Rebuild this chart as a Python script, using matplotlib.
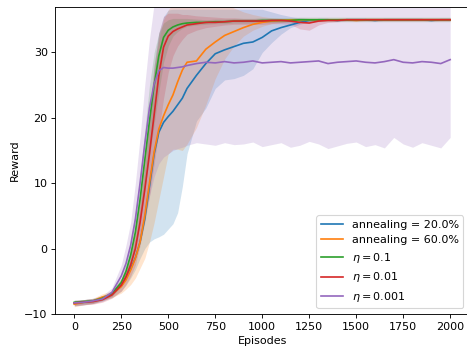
import matplotlib
matplotlib.use("Agg")
import matplotlib.pyplot as plt
import numpy as np

episodes = [0, 50, 100, 150, 200,
            250, 275, 300, 325, 350, 375, 400, 425, 450, 475, 500, 525, 550, 575, 600,
            650, 700, 750, 800, 850, 900, 950, 1000, 1050, 1100, 1150, 1200, 1250, 1300,
            1350, 1400, 1450, 1500, 1550, 1600, 1650, 1700, 1750, 1800, 1850, 1900, 1950, 2000]

labels = ["annealing = 20.0%", "annealing = 60.0%",
          r"$\eta = 0.1$", r"$\eta = 0.01$", r"$\eta = 0.001$"]
colors = ["tab:blue", "tab:orange", "tab:green", "tab:red", "tab:purple"]

# annealing 20%
blue_mean = [-8.4, -8.2, -8.0, -7.6, -7.0,
             -5.7, -4.6, -3.1, -1.4, 1.0, 4.5, 9.5, 14.5, 17.8, 19.3, 20.2, 21.0, 22.0, 23.0, 24.5,
             26.5, 28.3, 29.8, 30.4, 30.9, 31.4, 31.6, 32.3, 33.3, 33.8, 34.2, 34.6, 34.9, 35.0,
             35.0, 34.9, 35.0, 35.0, 35.0, 34.9, 35.0, 35.0, 35.0, 35.0, 35.0, 34.9, 35.0, 35.0]
blue_low = [-8.8, -8.6, -8.4, -8.0, -7.5,
            -6.5, -5.6, -4.5, -3.2, -1.5, 0.0, 1.0, 1.5, 1.8, 2.2, 3.0, 3.8, 5.5, 9.5, 14.5,
            19.5, 21.5, 24.5, 25.8, 26.0, 26.5, 27.5, 30.0, 31.5, 32.8, 33.8, 34.3, 34.7, 34.85,
            34.9, 34.8, 34.9, 34.9, 34.9, 34.8, 34.9, 34.9, 34.9, 34.9, 34.9, 34.8, 34.9, 34.9]
blue_high = [-8.0, -7.8, -7.6, -7.2, -6.5,
             -4.8, -3.5, -1.5, 1.5, 6.0, 12.0, 20.0, 28.0, 33.0, 35.5, 36.5, 36.6, 36.6, 36.6, 36.6,
             36.6, 36.6, 36.6, 36.6, 36.6, 36.6, 36.6, 36.6, 36.2, 35.8, 35.5, 35.3, 35.2, 35.1,
             35.1, 35.0, 35.1, 35.1, 35.1, 35.0, 35.1, 35.1, 35.1, 35.1, 35.1, 35.0, 35.1, 35.1]

# annealing 60%
orange_mean = [-8.5, -8.2, -8.0, -7.4, -7.0,
               -5.8, -4.8, -3.3, -1.5, 1.0, 5.0, 10.0, 14.8, 18.3, 20.3, 22.0, 23.5, 25.5, 27.3, 28.5,
               28.7, 30.5, 31.6, 32.6, 33.2, 33.8, 34.3, 34.6, 34.8, 34.9, 35.0, 35.0, 35.0, 35.0,
               35.0, 35.0, 35.0, 34.9, 35.0, 35.0, 35.0, 35.0, 35.0, 35.0, 35.0, 35.0, 35.0, 35.0]
orange_low = [-8.9, -8.6, -8.4, -7.9, -7.5,
              -6.8, -6.2, -5.5, -4.5, -3.0, -1.5, 1.0, 4.0, 7.5, 11.0, 14.5, 15.2, 15.2, 15.0, 16.0,
              18.5, 22.0, 26.0, 29.0, 31.0, 32.5, 33.4, 34.0, 34.4, 34.6, 34.8, 34.85, 34.85, 34.85,
              34.85, 34.85, 34.85, 34.75, 34.85, 34.85, 34.85, 34.85, 34.85, 34.85, 34.85, 34.85, 34.85, 34.85]
orange_high = [-8.1, -7.8, -7.6, -6.9, -6.5,
               -4.8, -3.5, -1.0, 2.5, 7.0, 13.0, 20.0, 27.0, 32.0, 35.0, 36.5, 37.5, 37.5, 37.5, 37.5,
               37.5, 37.5, 37.5, 37.5, 36.8, 36.2, 35.8, 35.5, 35.3, 35.2, 35.15, 35.15, 35.15, 35.15,
               35.15, 35.15, 35.15, 35.05, 35.15, 35.15, 35.15, 35.15, 35.15, 35.15, 35.15, 35.15, 35.15, 35.15]

# eta = 0.1
green_mean = [-8.2, -8.1, -8.0, -7.6, -6.9,
              -5.2, -3.5, -1.0, 2.5, 7.5, 13.5, 19.5, 25.0, 29.5, 32.3, 33.4, 33.9, 34.2, 34.4, 34.5,
              34.6, 34.6, 34.7, 34.7, 34.8, 34.8, 34.8, 34.9, 34.9, 34.9, 34.9, 35.0, 35.0, 35.0,
              35.0, 35.0, 35.0, 35.0, 35.0, 35.0, 35.0, 35.0, 35.0, 35.0, 35.0, 35.0, 35.0, 35.0]
green_low = [-8.5, -8.4, -8.3, -7.9, -7.3,
             -5.8, -4.5, -2.5, 0.0, 4.0, 9.0, 14.0, 19.0, 24.0, 28.5, 31.0, 32.5, 33.2, 33.7, 34.0,
             34.2, 34.3, 34.4, 34.4, 34.5, 34.5, 34.5, 34.6, 34.6, 34.6, 34.6, 34.7, 34.7, 34.7,
             34.7, 34.7, 34.7, 34.7, 34.7, 34.7, 34.7, 34.7, 34.7, 34.7, 34.7, 34.7, 34.7, 34.7]
green_high = [-7.9, -7.8, -7.7, -7.3, -6.5,
              -4.5, -2.3, 1.0, 5.5, 11.0, 18.0, 25.0, 30.0, 33.0, 34.5, 35.0, 35.2, 35.2, 35.2, 35.2,
              35.1, 35.0, 35.1, 35.1, 35.2, 35.2, 35.2, 35.3, 35.3, 35.3, 35.3, 35.4, 35.4, 35.4,
              35.4, 35.4, 35.4, 35.4, 35.4, 35.4, 35.4, 35.4, 35.4, 35.4, 35.4, 35.4, 35.4, 35.4]

# eta = 0.01
red_mean = [-8.3, -8.2, -8.1, -7.8, -7.1,
            -5.6, -4.3, -2.5, 0.0, 4.0, 9.0, 14.5, 20.5, 26.5, 30.8, 32.5, 33.2, 33.6, 33.9, 34.2,
            34.4, 34.6, 34.6, 34.7, 34.8, 34.8, 34.8, 34.8, 34.9, 34.9, 34.8, 34.6, 34.5, 34.8,
            34.9, 34.9, 35.0, 35.0, 35.0, 35.0, 35.0, 35.0, 35.0, 35.0, 35.0, 35.0, 35.0, 35.0]
red_low = [-8.7, -8.6, -8.5, -8.2, -7.6,
           -6.5, -5.5, -4.2, -2.5, 0.5, 4.0, 8.0, 13.0, 18.0, 23.0, 27.0, 29.5, 31.0, 32.0, 32.8,
           33.4, 33.8, 34.0, 34.2, 34.3, 34.3, 34.3, 34.3, 34.4, 34.4, 34.3, 33.6, 33.4, 34.2,
           34.6, 34.7, 34.8, 34.8, 34.8, 34.8, 34.8, 34.8, 34.8, 34.8, 34.8, 34.8, 34.8, 34.8]
red_high = [-7.9, -7.8, -7.7, -7.4, -6.6,
            -4.6, -3.0, -0.5, 3.0, 8.0, 14.0, 21.0, 28.0, 33.0, 35.5, 36.0, 36.0, 36.0, 35.8, 35.8,
            35.6, 35.5, 35.4, 35.3, 35.3, 35.2, 35.2, 35.2, 35.2, 35.2, 35.2, 35.1, 35.0, 35.2,
            35.2, 35.2, 35.3, 35.3, 35.3, 35.3, 35.3, 35.3, 35.3, 35.3, 35.3, 35.3, 35.3, 35.3]

# eta = 0.001
purple_mean = [-8.3, -8.2, -8.0, -7.7, -6.7,
               -4.2, -2.3, 0.5, 4.5, 10.0, 16.0, 21.5, 25.2, 27.2, 27.7, 27.6, 27.6, 27.7, 27.8, 28.0,
               28.3, 28.5, 28.4, 28.6, 28.4, 28.5, 28.7, 28.4, 28.5, 28.6, 28.4, 28.5, 28.6, 28.7,
               28.3, 28.5, 28.6, 28.7, 28.5, 28.4, 28.6, 28.9, 28.5, 28.4, 28.6, 28.5, 28.3, 28.9]
purple_low = [-8.7, -8.6, -8.4, -8.1, -7.3,
              -5.5, -4.2, -2.5, -0.5, 2.0, 5.0, 8.0, 11.0, 13.0, 14.0, 14.5, 15.0, 15.3, 15.5, 15.8,
              16.2, 16.0, 15.8, 16.2, 15.9, 16.0, 16.3, 15.6, 15.9, 16.2, 15.5, 15.8, 16.4, 16.0,
              15.3, 15.7, 16.1, 16.3, 15.6, 15.9, 15.4, 17.0, 16.0, 15.5, 16.2, 15.8, 15.4, 17.0]
purple_high = [-7.9, -7.8, -7.6, -7.2, -6.0,
               -2.5, 0.5, 4.0, 10.0, 17.0, 25.0, 32.0, 37.5, 40.0, 41.0, 41.0, 41.0, 41.0, 41.0, 41.0,
               41.0, 41.0, 41.0, 41.0, 41.0, 41.0, 41.0, 41.0, 41.0, 41.0, 41.0, 41.0, 41.0, 41.0,
               41.0, 41.0, 41.0, 41.0, 41.0, 41.0, 41.0, 41.0, 41.0, 41.0, 41.0, 41.0, 41.0, 41.0]

means = [blue_mean, orange_mean, green_mean, red_mean, purple_mean]
lows = [blue_low, orange_low, green_low, red_low, purple_low]
highs = [blue_high, orange_high, green_high, red_high, purple_high]

# reference looks like a default figure shrunk a bit, so draw at dpi 80
fig = plt.figure(figsize=(467 / 80, 350 / 80), dpi=80)
# right spine sits just past the image edge, like the reference
ax = fig.add_axes([0.1188, 0.1029, 0.8854, 0.878])

for lo, hi, c in zip(lows, highs, colors):
    ax.fill_between(episodes, lo, hi, color=c, alpha=0.2, linewidth=0)
for m, c, lab in zip(means, colors, labels):
    ax.plot(episodes, m, color=c, label=lab)

ax.set_xlim(-100, 2100)
ax.set_ylim(-10, 37)
ax.set_xticks(np.arange(0, 2001, 250))
ax.set_yticks([-10, 0, 10, 20, 30])
ax.set_xlabel("Episodes")
ax.set_ylabel("Reward")
ax.legend(loc="lower right")

fig.savefig("out.png", dpi=80)
